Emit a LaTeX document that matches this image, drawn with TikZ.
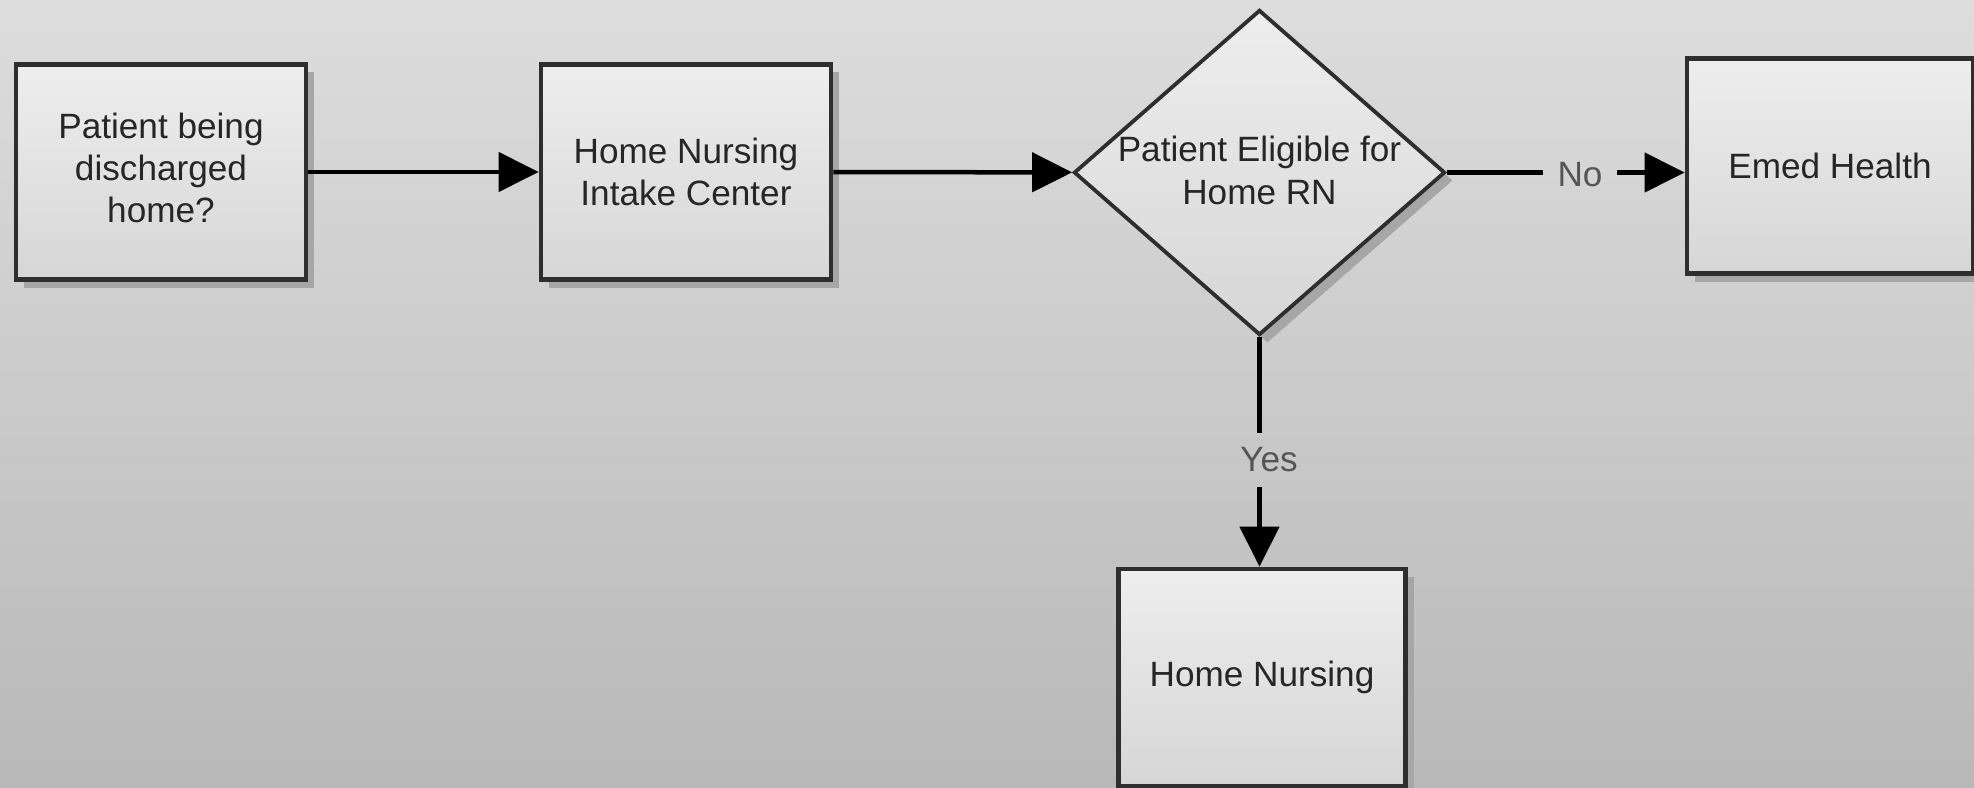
\documentclass[tikz,border=0pt]{standalone}
\usepackage{fontspec}
\setmainfont{Liberation Sans}
\usetikzlibrary{shapes.geometric,shadows,arrows.meta}
\definecolor{bgtop}{HTML}{DDDDDD}
\definecolor{bgbot}{HTML}{B8B8B8}
\definecolor{fillt}{HTML}{EEEEEE}
\definecolor{fillb}{HTML}{D6D6D6}
\definecolor{boxline}{HTML}{2E2E2E}
\definecolor{shadowc}{HTML}{A6A6A6}
\definecolor{txt}{HTML}{262626}
\definecolor{lbl}{HTML}{555555}
\begin{document}
\begin{tikzpicture}[x=0.01cm,y=-0.01cm,
  base/.style={draw=boxline, line width=0.045cm, top color=fillt, bottom color=fillb,
    text=txt, font=\fontsize{10}{12}\selectfont, align=center, inner sep=0pt,
    drop shadow={shadow xshift=0.08cm, shadow yshift=-0.08cm, fill=shadowc, opacity=1}},
  box/.style={base, rectangle, minimum width=2.9cm, minimum height=2.15cm},
  decision/.style={base, diamond, line width=0.038cm, minimum width=3.71cm, minimum height=3.25cm, aspect=1.14},
  lab/.style={text=lbl, font=\fontsize{10}{12}\selectfont, inner sep=4pt},
  conn/.style={draw=black, line width=0.045cm},
  arr/.style={conn, -{Triangle[length=0.4cm, width=0.39cm]}}
]
\shade[top color=bgtop, bottom color=bgbot] (0,0) rectangle (1974,788);
\useasboundingbox (0,0) rectangle (1974,788);

\node[box] (start) at (161,172) {\raisebox{0.08cm}{\begin{tabular}{@{}c@{}}Patient being\\discharged\\home?\end{tabular}}};
\node[box] (intake) at (686,172) {Home Nursing\\Intake Center};
\node[decision, label={[text=txt, font=\fontsize{10}{12}\selectfont, align=center, yshift=0.02cm]center:Patient Eligible for\\Home RN}] (elig) at (1259.5,172.5) {};
\node[box, minimum width=2.86cm] (emed) at (1830,166) {Emed Health};
\node[box, minimum width=2.87cm, minimum height=2.17cm] (hn) at (1262,677.5) {Home Nursing};

\node[lab] (no) at (1580,175) {No};
\node[lab] (yes) at (1269,460) {Yes};

\draw[arr] (start) -- (intake);
\draw[arr] (intake) -- (elig);
\draw[conn] (elig.east) -- (elig.east -| no.west);
\draw[arr] (no.east |- elig.east) -- (emed.west |- elig.east);
\draw[conn] (elig.south) -- (elig.south |- yes.north);
\draw[arr] (yes.south -| elig.south) -- (hn.north -| elig.south);
\end{tikzpicture}
\end{document}
